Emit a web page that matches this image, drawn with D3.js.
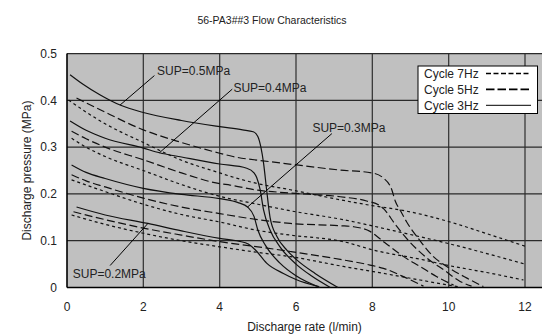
<!DOCTYPE html>
<html>
<head>
<meta charset="utf-8">
<script src="https://cdn.jsdelivr.net/npm/d3@7"></script>
<style>
  body { margin: 0; background: #fff; }
  svg { display: block; font-family: "Liberation Sans", Arial, sans-serif; }
</style>
</head>
<body>
<div id="chart"></div>
<script>
// discharge rate (l/min) / discharge pressure (MPa)
const sup05_3hz = [[0.08,0.455],[0.43,0.434],[0.86,0.412],[1.39,0.39],[2,0.374],[3,0.357],[4,0.344],[4.6,0.337],[4.88,0.333],[5.0,0.323],[5.08,0.3],[5.15,0.266],[5.23,0.209],[5.32,0.15],[5.5,0.109],[5.76,0.08],[6.02,0.059],[6.5,0.03],[7.1,0.0]];
const sup04_3hz = [[0.08,0.356],[0.5,0.336],[1,0.319],[2,0.298],[2.42,0.288],[3,0.279],[4,0.264],[4.71,0.255],[4.9,0.245],[4.97,0.235],[5.06,0.209],[5.15,0.166],[5.32,0.123],[5.58,0.087],[6.0,0.05],[6.4,0.025],[6.9,0.0]];
const sup03_3hz = [[0.12,0.262],[0.5,0.246],[1,0.233],[2,0.212],[3,0.199],[4,0.19],[4.5,0.181],[4.73,0.172],[4.9,0.152],[5.0,0.123],[5.2,0.09],[5.58,0.052],[6.0,0.025],[6.63,0.0]];
const sup02_3hz = [[0.25,0.172],[1,0.155],[2.12,0.137],[3,0.121],[4,0.105],[4.5,0.099],[4.75,0.093],[4.95,0.079],[5.23,0.052],[5.67,0.03],[6.0,0.017],[6.6,0.002]];

const sup05_5hz = [[0.25,0.405],[0.87,0.38],[2,0.337],[3,0.31],[4,0.287],[4.35,0.28],[5.32,0.269],[6.02,0.262],[7.16,0.251],[7.99,0.245],[8.29,0.234],[8.51,0.209],[8.6,0.185],[8.73,0.165],[8.9,0.14],[9.25,0.1],[9.6,0.066],[9.95,0.045],[10.48,0.02],[10.91,0.002]];
const sup04_5hz = [[0.12,0.334],[0.5,0.318],[1,0.3],[2,0.273],[3,0.245],[4,0.222],[4.27,0.219],[5,0.208],[5.85,0.202],[7.16,0.194],[7.85,0.185],[8.2,0.175],[8.3,0.168],[8.6,0.135],[8.95,0.1],[9.43,0.063],[9.9,0.036],[10.3,0.013],[10.6,0.003]];
const sup03_5hz = [[0.12,0.241],[0.5,0.228],[1,0.215],[2,0.191],[3,0.172],[4,0.158],[5,0.145],[5.85,0.137],[7.16,0.132],[7.5,0.13],[7.94,0.12],[8.2,0.104],[8.47,0.087],[8.82,0.066],[9.25,0.045],[9.69,0.023],[10.13,0.005]];
const sup02_5hz = [[0.17,0.162],[1,0.145],[2,0.127],[3,0.112],[4,0.098],[5,0.087],[5.85,0.077],[7.16,0.06],[7.94,0.048],[8.29,0.041],[8.9,0.02],[9.34,0.003]];

const sup05_7hz = [[0.04,0.401],[0.5,0.375],[1,0.35],[2,0.31],[3,0.272],[4,0.245],[4.27,0.238],[5,0.222],[5.85,0.209],[7,0.19],[8,0.175],[8.85,0.164],[10.04,0.14],[11,0.115],[12.05,0.087]];
const sup04_7hz = [[0.12,0.319],[0.5,0.3],[1,0.28],[2,0.25],[3,0.22],[4,0.195],[5,0.178],[5.85,0.164],[7.24,0.145],[8.47,0.123],[10.04,0.093],[12,0.05]];
const sup03_7hz = [[0.12,0.23],[1,0.205],[2,0.178],[3,0.156],[4,0.14],[5,0.122],[5.85,0.112],[7.24,0.098],[8.03,0.08],[9.34,0.059],[10,0.047],[11,0.032],[11.96,0.016]];
const sup02_7hz = [[0.12,0.155],[1,0.135],[2,0.116],[3,0.1],[4,0.087],[5,0.075],[5.85,0.066],[7.24,0.045],[8.03,0.034],[9.25,0.016],[10,0.005],[10.3,0.001]];

const xTicks = [0, 2, 4, 6, 8, 10, 12];
const yTicks = [0, 0.1, 0.2, 0.3, 0.4, 0.5];

const cycles = ["Cycle 7Hz", "Cycle 5Hz", "Cycle 3Hz"];
const cycleDash = { "Cycle 7Hz": "3,3", "Cycle 5Hz": "8,3.5", "Cycle 3Hz": null };

// [label, text x, text y, curve x, curve y]
const supLabels = [
  ["SUP=0.5MPa", 2.36, 0.4636, 1.39, 0.39],
  ["SUP=0.4MPa", 4.36, 0.427, 2.42, 0.288],
  ["SUP=0.3MPa", 6.43, 0.341, 4.73, 0.172],
  ["SUP=0.2MPa", 0.15, 0.029, 2.12, 0.137]
];
const leaderStart = [[2.29, 0.453], [4.33, 0.424], [6.94, 0.329], [1.13, 0.047]];

const series = [
  { cycle: "Cycle 3Hz", pts: sup05_3hz }, { cycle: "Cycle 3Hz", pts: sup04_3hz },
  { cycle: "Cycle 3Hz", pts: sup03_3hz }, { cycle: "Cycle 3Hz", pts: sup02_3hz },
  { cycle: "Cycle 5Hz", pts: sup05_5hz }, { cycle: "Cycle 5Hz", pts: sup04_5hz },
  { cycle: "Cycle 5Hz", pts: sup03_5hz }, { cycle: "Cycle 5Hz", pts: sup02_5hz },
  { cycle: "Cycle 7Hz", pts: sup05_7hz }, { cycle: "Cycle 7Hz", pts: sup04_7hz },
  { cycle: "Cycle 7Hz", pts: sup03_7hz }, { cycle: "Cycle 7Hz", pts: sup02_7hz }
];

const WIDTH = 542, HEIGHT = 334;
const margin = { left: 67, top: 53.6, bottom: 46.5 };

const x = d3.scaleLinear().domain([0, 12]).range([margin.left, 525]);
const y = d3.scaleLinear().domain([0, 0.5]).range([HEIGHT - margin.bottom, margin.top]);

const svg = d3.select("#chart").append("svg")
  .attr("width", WIDTH)
  .attr("height", HEIGHT);

// plot area runs past the right edge of the picture
svg.append("rect")
  .attr("x", x(0)).attr("y", y(0.5))
  .attr("width", x(12.6) - x(0)).attr("height", y(0) - y(0.5))
  .attr("fill", "#c0c0c0");

svg.append("g").selectAll("line")
  .data(xTicks.slice(1))
  .join("line")
  .attr("x1", d => x(d)).attr("x2", d => x(d))
  .attr("y1", y(0)).attr("y2", y(0.5))
  .attr("stroke", "#3a3a3a").attr("stroke-width", 1.3);

svg.append("g").selectAll("line")
  .data(yTicks.slice(1))
  .join("line")
  .attr("x1", x(0)).attr("x2", x(12.6))
  .attr("y1", d => y(d)).attr("y2", d => y(d))
  .attr("stroke", "#2a2a2a").attr("stroke-width", 1.3);

// axes
svg.append("line")
  .attr("x1", x(0)).attr("x2", x(0)).attr("y1", y(0)).attr("y2", y(0.5))
  .attr("stroke", "#000").attr("stroke-width", 1.6);
svg.append("line")
  .attr("x1", x(0)).attr("x2", x(12.6)).attr("y1", y(0)).attr("y2", y(0))
  .attr("stroke", "#000").attr("stroke-width", 1.6);

svg.append("g").selectAll("text")
  .data(yTicks)
  .join("text")
  .attr("x", 57).attr("y", d => y(d)).attr("dy", "0.35em")
  .attr("text-anchor", "end").attr("font-size", 12).attr("fill", "#222")
  .text(d => d === 0 ? "0" : d.toFixed(1));

svg.append("g").selectAll("text")
  .data(xTicks)
  .join("text")
  .attr("x", d => x(d)).attr("y", 307).attr("dy", "0.35em")
  .attr("text-anchor", "middle").attr("font-size", 12).attr("fill", "#222")
  .text(d => d);

// curves
const line = d3.line()
  .x(d => x(d[0]))
  .y(d => y(d[1]))
  .curve(d3.curveMonotoneX);

svg.append("g").selectAll("path")
  .data(series)
  .join("path")
  .attr("d", d => line(d.pts))
  .attr("fill", "none")
  .attr("stroke", "#111")
  .attr("stroke-width", 1.2)
  .attr("stroke-dasharray", d => cycleDash[d.cycle]);

// SUP annotations
svg.append("g").selectAll("line")
  .data(supLabels)
  .join("line")
  .attr("x1", (d, i) => x(leaderStart[i][0])).attr("y1", (d, i) => y(leaderStart[i][1]))
  .attr("x2", d => x(d[3])).attr("y2", d => y(d[4]))
  .attr("stroke", "#000").attr("stroke-width", 1);

svg.append("g").selectAll("text")
  .data(supLabels)
  .join("text")
  .attr("x", d => x(d[1])).attr("y", d => y(d[2])).attr("dy", "0.35em")
  .attr("font-size", 12).attr("fill", "#222")
  .text(d => d[0]);

// legend
const legend = svg.append("g").attr("transform", "translate(418,66)");
legend.append("rect")
  .attr("width", 119.5).attr("height", 47.5)
  .attr("fill", "#fff").attr("stroke", "#000").attr("stroke-width", 1);
const rows = legend.selectAll("g.row")
  .data(cycles)
  .join("g")
  .attr("class", "row")
  .attr("transform", (d, i) => `translate(0, ${7.5 + i * 15.9})`);
rows.append("text")
  .attr("x", 6).attr("dy", "0.35em")
  .attr("font-size", 12).attr("fill", "#222")
  .text(d => d);
rows.append("line")
  .attr("x1", 68).attr("x2", 113)
  .attr("stroke", "#000").attr("stroke-width", d => d === "Cycle 3Hz" ? 1 : 1.6)
  .attr("stroke-dasharray", d => d === "Cycle 7Hz" ? "5,2.5" : d === "Cycle 5Hz" ? "8.5,3" : null);

// titles
svg.append("text")
  .attr("x", 272).attr("y", 20).attr("dy", "0.35em")
  .attr("text-anchor", "middle").attr("font-size", 10.5).attr("fill", "#222")
  .text("56-PA3##3 Flow Characteristics");

svg.append("text")
  .attr("x", (x(0) + WIDTH) / 2).attr("y", 327).attr("dy", "0.35em")
  .attr("text-anchor", "middle").attr("font-size", 12).attr("fill", "#222")
  .text("Discharge rate (l/min)");

svg.append("text")
  .attr("transform", `translate(27, ${(y(0) + y(0.5)) / 2}) rotate(-90)`)
  .attr("dy", "0.35em")
  .attr("text-anchor", "middle").attr("font-size", 12).attr("fill", "#222")
  .text("Discharge pressure (MPa)");
</script>
</body>
</html>
